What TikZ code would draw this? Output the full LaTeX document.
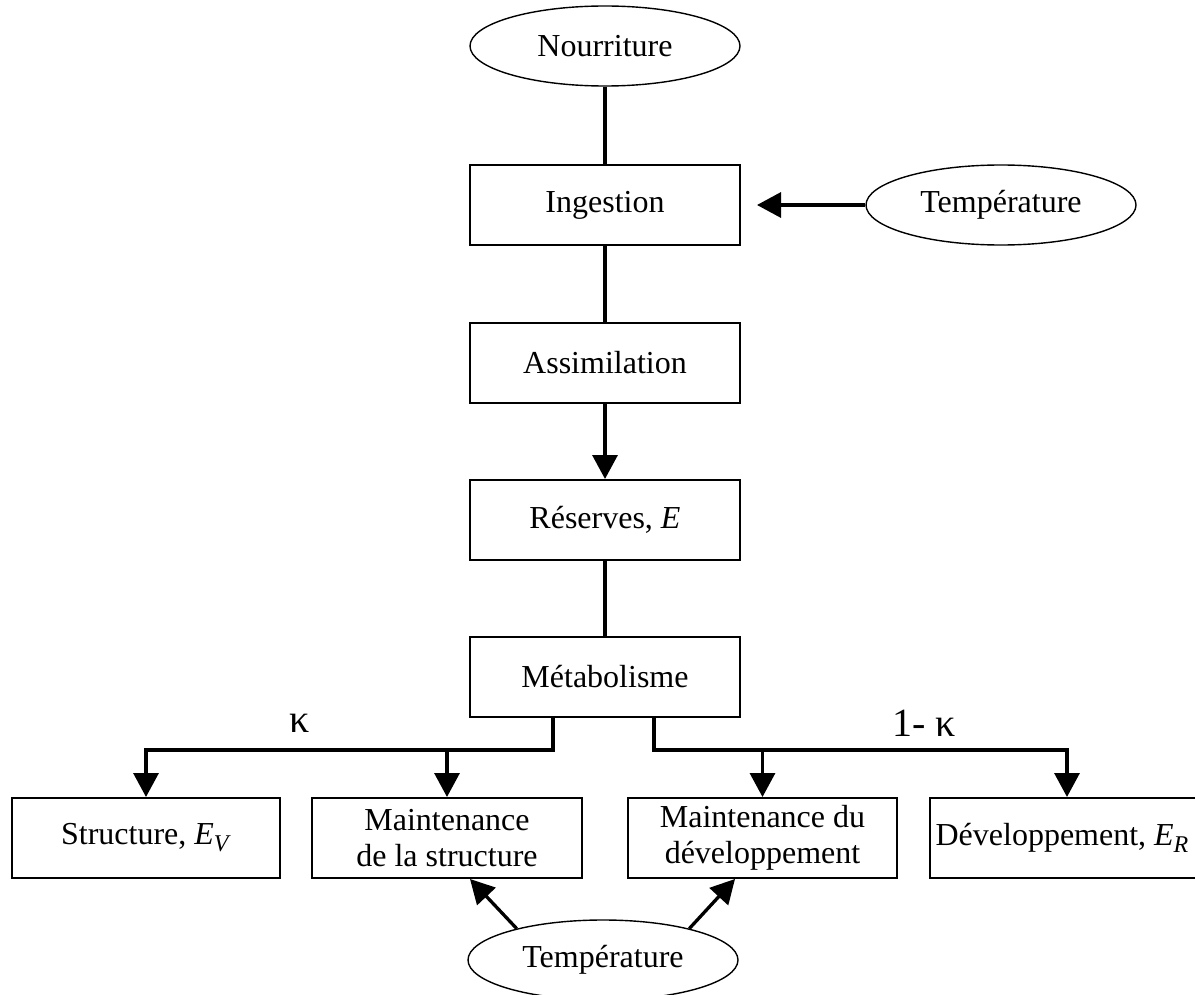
\documentclass[tikz,border=0pt]{standalone}
\usepackage{fontspec}
\setmainfont{Liberation Serif}
\usetikzlibrary{shapes.geometric,arrows.meta}
\newcommand{\sbx}[1]{\raisebox{-0.22em}{\fontsize{12}{12}\selectfont\textit{#1}}}
\begin{document}
\begin{tikzpicture}[x=0.5pt,y=-0.5pt,
  txt/.style={font=\fontsize{16}{18}\selectfont},
  box/.style={txt, draw, line width=1pt, minimum width=135pt, minimum height=40pt, inner sep=0pt, align=center},
  oval/.style={txt, draw, ellipse, line width=0.7pt, minimum width=135pt, minimum height=40pt, inner sep=0pt},
  link/.style={line width=1.65pt},
  arr/.style={link, -{Triangle[length=12pt,width=12.5pt]}},
  lbl/.style={font=\fontsize{20}{22}\selectfont}]
\useasboundingbox (0,0) rectangle (1195,995);
% nodes
\node[oval] (nour) at (605,46) {Nourriture};
\node[box] (ing) at (605,205) {Ingestion};
\node[oval] (tempA) at (1001,205) {Température};
\node[box] (ass) at (605,363) {Assimilation};
\node[box] (res) at (605,520) {Réserves, \textit{E}};
\node[box] (met) at (605,677) {Métabolisme};
\node[box, minimum width=134pt] (struct) at (146,838) {Structure, \textit{E}\sbx{V}};
\node[box] (mstruct) at (447,838) {Maintenance\\de la structure};
\node[box, minimum width=134.5pt] (mdev) at (762.5,838) {Maintenance du\\développement};
\node[box, minimum width=137pt] (dev) at (1067,838) {\hspace*{-5pt}Développement, \textit{E}\sbx{R}};
\node[oval] (tempB) at (603,960) {Température};
\node[lbl] (k1) at (300,723) {κ};
\node[lbl] (k2) at (924,723) {1- κ};
% connectors
\draw[link] (nour.south) -- (ing.north);
\draw[link] (ing.south) -- (ass.north);
\draw[arr] (ass.south) -- (res.north);
\draw[link] (res.south) -- (met.north);
\draw[arr, shorten >=8pt] (tempA.west) -- (ing.east);
\draw[arr] ([xshift=-26pt]met.south) |- ([yshift=23.5pt]struct.north) -- (struct.north);
\draw[arr] ([yshift=23.5pt]mstruct.north) -- (mstruct.north);
\draw[arr] ([xshift=24.5pt]met.south) |- ([yshift=23.5pt]dev.north) -- (dev.north);
\draw[arr] ([yshift=23.5pt]mdev.north) -- (mdev.north);
\draw[arr] (tempB.160) -- ([xshift=11.5pt]mstruct.south);
\draw[arr] (tempB.20) -- ([xshift=-13.75pt]mdev.south);
\end{tikzpicture}
\end{document}
